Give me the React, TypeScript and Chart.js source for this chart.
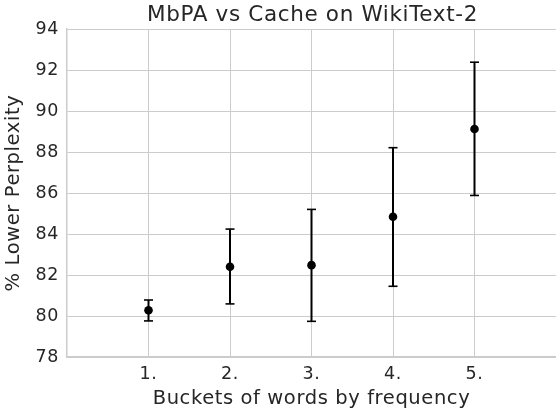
import React, { useEffect, useRef } from "react";
import { Chart, registerables } from "chart.js";

Chart.register(...registerables);

const titleText = "MbPA vs Cache on WikiText-2";
const xAxisLabel = "Buckets of words by frequency";
const yAxisLabel = "% Lower Perplexity";

const bucketLabels = ["1.", "2.", "3.", "4.", "5."];
const bucketPositions = [1, 2, 3, 4, 5];
const meanValues = [80.28, 82.4, 82.48, 84.84, 89.12];
const lowerValues = [79.76, 80.59, 79.74, 81.45, 85.88];
const upperValues = [80.78, 84.24, 85.2, 88.21, 92.38];
const yTickValues = [78, 80, 82, 84, 86, 88, 90, 92, 94];

const FONT = "'DejaVu Sans', sans-serif";
const TEXT = "#262626";
const GRID = "#cccccc";

const spacingPlugin = {
  id: "letterSpacing",
  beforeDraw(chart: any) {
    chart.ctx.letterSpacing = "0.6px";
  },
};

const titlePlugin = {
  id: "centeredTitle",
  afterDraw(chart: any) {
    const { ctx, chartArea } = chart;
    ctx.save();
    ctx.font = `21.5px ${FONT}`;
    ctx.letterSpacing = "0.65px";
    ctx.fillStyle = TEXT;
    ctx.textAlign = "center";
    ctx.textBaseline = "alphabetic";
    ctx.fillText(titleText, (chartArea.left + chartArea.right) / 2 + 1, 21.3);
    ctx.restore();
  },
};

export default function App() {
  const ref = useRef<HTMLCanvasElement>(null);

  useEffect(() => {
    if (!ref.current) return;
    const barData: any[] = [];
    const capData: any[] = [];
    bucketPositions.forEach((x, i) => {
      barData.push({ x, y: lowerValues[i] });
      barData.push({ x, y: upperValues[i] });
      barData.push({ x, y: null });
      capData.push({ x, y: lowerValues[i] });
      capData.push({ x, y: upperValues[i] });
    });
    const pointData = bucketPositions.map((x, i) => ({ x, y: meanValues[i] }));

    const chart = new Chart(ref.current, {
      type: "scatter",
      data: {
        datasets: [
          {
            label: "mean",
            data: pointData,
            pointRadius: 4.3,
            pointBackgroundColor: "#000",
            pointBorderColor: "#000",
            pointBorderWidth: 0,
            showLine: false,
            order: 0,
          } as any,
          {
            label: "bars",
            data: barData,
            showLine: true,
            spanGaps: false,
            borderColor: "#000",
            borderWidth: 2,
            pointRadius: 0,
            order: 2,
          } as any,
          {
            label: "caps",
            data: capData,
            pointStyle: "line",
            pointRadius: 4.5,
            pointBorderColor: "#000",
            pointBorderWidth: 1.6,
            showLine: false,
            order: 1,
          } as any,
        ],
      },
      options: {
        animation: false,
        responsive: false,
        maintainAspectRatio: false,
        layout: { autoPadding: false, padding: { top: 29, left: 0, right: 0, bottom: 0 } },
        plugins: {
          legend: { display: false },
          tooltip: { enabled: false },
          title: { display: false },
        },
        scales: {
          x: {
            type: "linear",
            min: 0,
            max: 6,
            afterBuildTicks: (axis: any) => {
              axis.ticks = bucketPositions.map((v) => ({ value: v }));
            },
            afterFit: (axis: any) => {
              axis.height = 51;
              axis.paddingLeft = 0;
              axis.paddingRight = 0;
            },
            ticks: {
              callback: (v: any) => bucketLabels[bucketPositions.indexOf(Number(v))] ?? "",
              color: TEXT,
              font: { family: FONT, size: 17.5 },
              padding: 6.5,
              maxRotation: 0,
              autoSkip: false,
            },
            grid: { color: GRID, lineWidth: 1, drawTicks: false },
            border: { display: true, color: GRID, width: 1.5 },
            title: {
              display: true,
              text: xAxisLabel,
              color: TEXT,
              font: { family: FONT, size: 19.5 },
              padding: { top: 0, bottom: -3 },
            },
          },
          y: {
            type: "linear",
            min: 78,
            max: 94,
            afterBuildTicks: (axis: any) => {
              axis.ticks = yTickValues.map((v) => ({ value: v }));
            },
            afterFit: (axis: any) => {
              axis.width = 67;
              axis.paddingTop = 0;
              axis.paddingBottom = 0;
            },
            ticks: {
              color: TEXT,
              font: { family: FONT, size: 17.5 },
              padding: 8,
            },
            grid: { color: GRID, lineWidth: 1, drawTicks: false },
            border: { display: true, color: GRID, width: 1.5 },
            title: {
              display: true,
              text: yAxisLabel,
              color: TEXT,
              font: { family: FONT, size: 19.5 },
              padding: { top: 2.3, bottom: 0 },
            },
          },
        },
      },
      plugins: [spacingPlugin, titlePlugin],
    });
    return () => chart.destroy();
  }, []);

  return (
    <div style={{ position: "absolute", left: 0, top: 0, width: 556, height: 408, background: "#fff" }}>
      <canvas ref={ref} width={556} height={408} style={{ width: 556, height: 408, display: "block" }} />
    </div>
  );
}
